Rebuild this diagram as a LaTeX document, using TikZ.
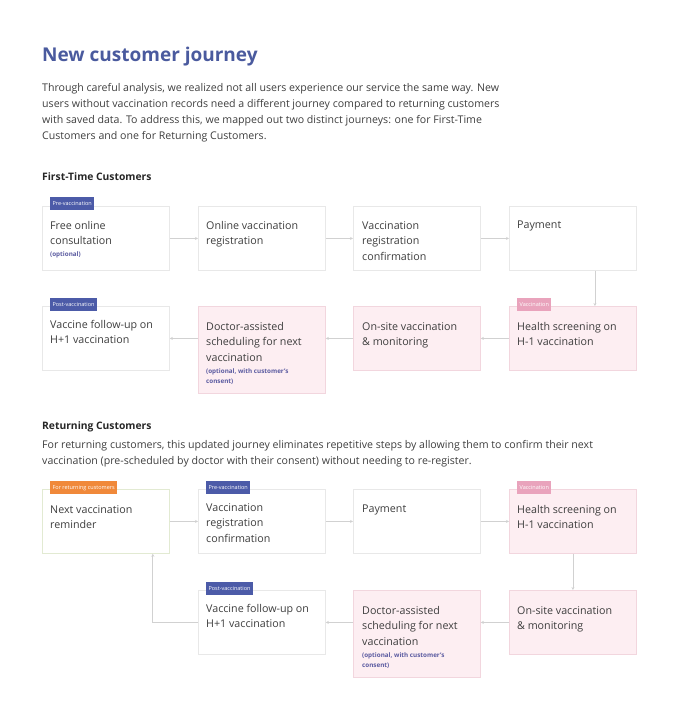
\documentclass[tikz,border=0pt]{standalone}
\usepackage{fontspec}
\setmainfont{Open Sans}
\usetikzlibrary{arrows.meta}
\definecolor{titleblue}{HTML}{4A5A9E}
\definecolor{tagblue}{HTML}{4C5BA8}
\definecolor{tagpink}{HTML}{E9A3BC}
\definecolor{tagorange}{HTML}{F0893A}
\definecolor{pinkfill}{HTML}{FDEEF2}
\definecolor{pinkline}{HTML}{F2D6DE}
\definecolor{greyline}{HTML}{E8E8E8}
\definecolor{greenline}{HTML}{E2EAD2}
\definecolor{bodytext}{HTML}{3E3E3E}
\definecolor{notetext}{HTML}{5A5AA0}
\begin{document}
\begin{tikzpicture}[
		x=1pt, y=-1pt,
		stage/.style  ={rectangle, draw=greyline, fill=white, line width=0.8pt, anchor=north west, minimum width=127pt, minimum height=64pt, inner sep=0pt},
		pinkstage/.style={stage, draw=pinkline, fill=pinkfill},
		greenstage/.style={stage, draw=greenline},
		txt/.style    ={anchor=north west, align=left, font=\fontsize{10.7}{15.5}\selectfont, text=bodytext, inner sep=0pt},
		note/.style   ={anchor=north west, align=left, font=\fontsize{6.3}{10}\selectfont\bfseries, text=notetext, inner sep=0pt},
		tag/.style    ={anchor=north west, font=\fontsize{5.5}{6}\selectfont, text=white, inner sep=2.4pt, minimum height=13pt},
		link/.style   ={draw=black!18, line width=0.8pt, -{Stealth[length=3pt,width=3pt]}},
	]

	\useasboundingbox (0,0) rectangle (678,720);

	% heading
	\node [anchor=north west, inner sep=0pt, font=\fontsize{19}{22}\selectfont\bfseries, text=titleblue] (title) at (42,47) {New customer journey};
	\node [anchor=north west, inner sep=0pt, align=left, text=bodytext, font=\fontsize{10.6}{16}\selectfont] (intro) at (42,83) {Through careful analysis, we realized not all users experience our service the same way. New\\users without vaccination records need a different journey compared to returning customers\\with saved data. To address this, we mapped out two distinct journeys: one for First-Time\\Customers and one for Returning Customers.};

	% first-time customers
	\node [anchor=north west, inner sep=0pt, font=\fontsize{10.3}{12}\selectfont\bfseries, text=black!85] (headA) at (42,172) {First-Time Customers};

	\node [stage]     (a1) at (42,206)  {};
	\node [stage]     (a2) at (198,206) {};
	\node [stage]     (a3) at (353,206) {};
	\node [stage]     (a4) at (509,206) {};
	\node [stage]     (a5) at (42,306)  {};
	\node [pinkstage, minimum height=87pt] (a6) at (198,306) {};
	\node [pinkstage] (a7) at (353,306) {};
	\node [pinkstage] (a8) at (509,306) {};

	\node [txt] (a1t) at (50,221)  {Free online\\consultation};
	\node [note] (a1n) at (50,252) {(optional)};
	\node [txt] (a2t) at (206,221) {Online vaccination\\registration};
	\node [txt] (a3t) at (362,221) {Vaccination\\registration\\confirmation};
	\node [txt] (a4t) at (517,221) {Payment};
	\node [txt] (a5t) at (50,320)  {Vaccine follow-up on\\H+1 vaccination};
	\node [txt] (a6t) at (206,322) {Doctor-assisted\\scheduling for next\\vaccination};
	\node [note] (a6n) at (206,369) {(optional, with customer's\\consent)};
	\node [txt] (a7t) at (362,322) {On-site vaccination\\\& monitoring};
	\node [txt] (a8t) at (517,322) {Health screening on\\H-1 vaccination};

	\node [tag, fill=tagblue] (a1g) at (50,197)  {Pre-vaccination};
	\node [tag, fill=tagblue] (a5g) at (50,298)  {Post-vaccination};
	\node [tag, fill=tagpink] (a8g) at (517,298) {Vaccination};

	\draw [link] (a1) -- (a2);
	\draw [link] (a2) -- (a3);
	\draw [link] (a3) -- (a4);
	\draw [link] ([xshift=22pt]a4.south) -- ([xshift=22pt]a8.north);
	\draw [link] (a8.west) -- (a7.east);
	\draw [link] (a7.west) -- (a7.west -| a6.east);
	\draw [link] (a7.west -| a6.west) -- (a7.west -| a5.east);

	% returning customers
	\node [anchor=north west, inner sep=0pt, font=\fontsize{10.3}{12}\selectfont\bfseries, text=black!85] (headB) at (42,421) {Returning Customers};
	\node [anchor=north west, inner sep=0pt, align=left, text=bodytext, font=\fontsize{10.6}{16}\selectfont] (introB) at (42,440) {For returning customers, this updated journey eliminates repetitive steps by allowing them to confirm their next\\vaccination (pre-scheduled by doctor with their consent) without needing to re-register.};

	\node [greenstage] (b1) at (42,489)  {};
	\node [stage]      (b2) at (198,489) {};
	\node [stage]      (b3) at (353,489) {};
	\node [pinkstage]  (b4) at (509,489) {};
	\node [stage]      (b5) at (198,590) {};
	\node [pinkstage, minimum height=87pt] (b6) at (353,590) {};
	\node [pinkstage]  (b7) at (509,590) {};

	\node [txt] (b1t) at (50,505)  {Next vaccination\\reminder};
	\node [txt] (b2t) at (206,503) {Vaccination\\registration\\confirmation};
	\node [txt] (b3t) at (362,505) {Payment};
	\node [txt] (b4t) at (517,505) {Health screening on\\H-1 vaccination};
	\node [txt] (b5t) at (206,604) {Vaccine follow-up on\\H+1 vaccination};
	\node [txt] (b6t) at (362,606) {Doctor-assisted\\scheduling for next\\vaccination};
	\node [note] (b6n) at (362,653) {(optional, with customer's\\consent)};
	\node [txt] (b7t) at (517,606) {On-site vaccination\\\& monitoring};

	\node [tag, fill=tagorange] (b1g) at (50,481)  {For returning customers};
	\node [tag, fill=tagblue]   (b2g) at (206,481) {Pre-vaccination};
	\node [tag, fill=tagpink]   (b4g) at (517,481) {Vaccination};
	\node [tag, fill=tagblue]   (b5g) at (206,582) {Post-vaccination};

	\draw [link] (b1) -- (b2);
	\draw [link] (b2) -- (b3);
	\draw [link] (b3) -- (b4);
	\draw [link] (b4) -- (b7);
	\draw [link] (b7.west) -- (b7.west -| b6.east);
	\draw [link] (b7.west -| b6.west) -- (b7.west -| b5.east);
	\draw [link] (b7.west -| b5.west) -| ([xshift=-17pt]b1.south east);

\end{tikzpicture}
\end{document}
